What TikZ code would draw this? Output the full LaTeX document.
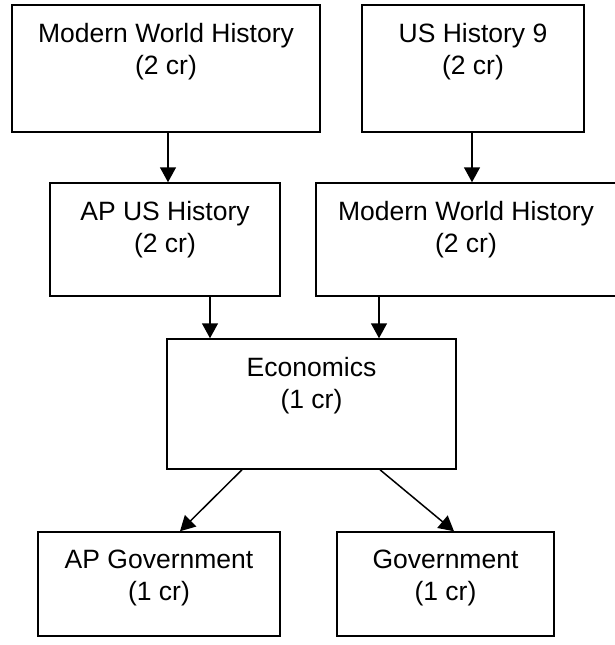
\documentclass[tikz,border=0pt]{standalone}
\usepackage{fontspec}
\setmainfont{Liberation Sans}
\usetikzlibrary{arrows.meta}
\begin{document}
\begin{tikzpicture}[x=1pt,y=-1pt,
  box/.style={draw=black,line width=1.5pt,fill=white,inner sep=0pt},
  lbl/.style={anchor=north,inner sep=0pt,align=center,font=\fontsize{26.5}{32}\selectfont},
  arr/.style={draw=black,line width=1.5pt,-{Triangle[length=15pt,width=16pt]}}]
\useasboundingbox (0,0) rectangle (614,645);
\node[box,minimum width=308pt,minimum height=127pt] (a) at (166,68.5) {};
\node[box,minimum width=222pt,minimum height=127pt] (b) at (473,68.5) {};
\node[box,minimum width=230pt,minimum height=113pt] (c) at (165,239.5) {};
\node[box,minimum width=300pt,minimum height=113pt] (d) at (466,239.5) {};
\node[box,minimum width=289pt,minimum height=130pt] (e) at (311.5,404) {};
\node[box,minimum width=242pt,minimum height=104pt] (f) at (159,584) {};
\node[box,minimum width=217pt,minimum height=104pt] (g) at (445.5,584) {};
\node[lbl] (ta) at ([yshift=-19pt]a.north) {Modern World History\\(2 cr)};
\node[lbl] (tb) at ([yshift=-19pt]b.north) {US History 9\\(2 cr)};
\node[lbl] (tc) at ([yshift=-19pt]c.north) {AP US History\\(2 cr)};
\node[lbl] (td) at ([yshift=-19pt]d.north) {Modern World History\\(2 cr)};
\node[lbl] (te) at ([yshift=-19pt]e.north) {Economics\\(1 cr)};
\node[lbl] (tf) at ([yshift=-19pt]f.north) {AP Government\\(1 cr)};
\node[lbl] (tg) at ([yshift=-19pt]g.north) {Government\\(1 cr)};
\draw[arr] ([xshift=2pt]a.south) -- ([xshift=3pt]c.north);
\draw[arr] ([xshift=-1pt]b.south) -- ([xshift=6pt]d.north);
\draw[arr] ([xshift=45pt]c.south) -- ([xshift=-101.5pt]e.north);
\draw[arr] ([xshift=-87pt]d.south) -- ([xshift=67.5pt]e.north);
\draw[arr] ([xshift=-69.5pt]e.south) -- ([xshift=21pt]f.north);
\draw[arr] ([xshift=68.5pt]e.south) -- ([xshift=8.5pt]g.north);
\end{tikzpicture}
\end{document}
